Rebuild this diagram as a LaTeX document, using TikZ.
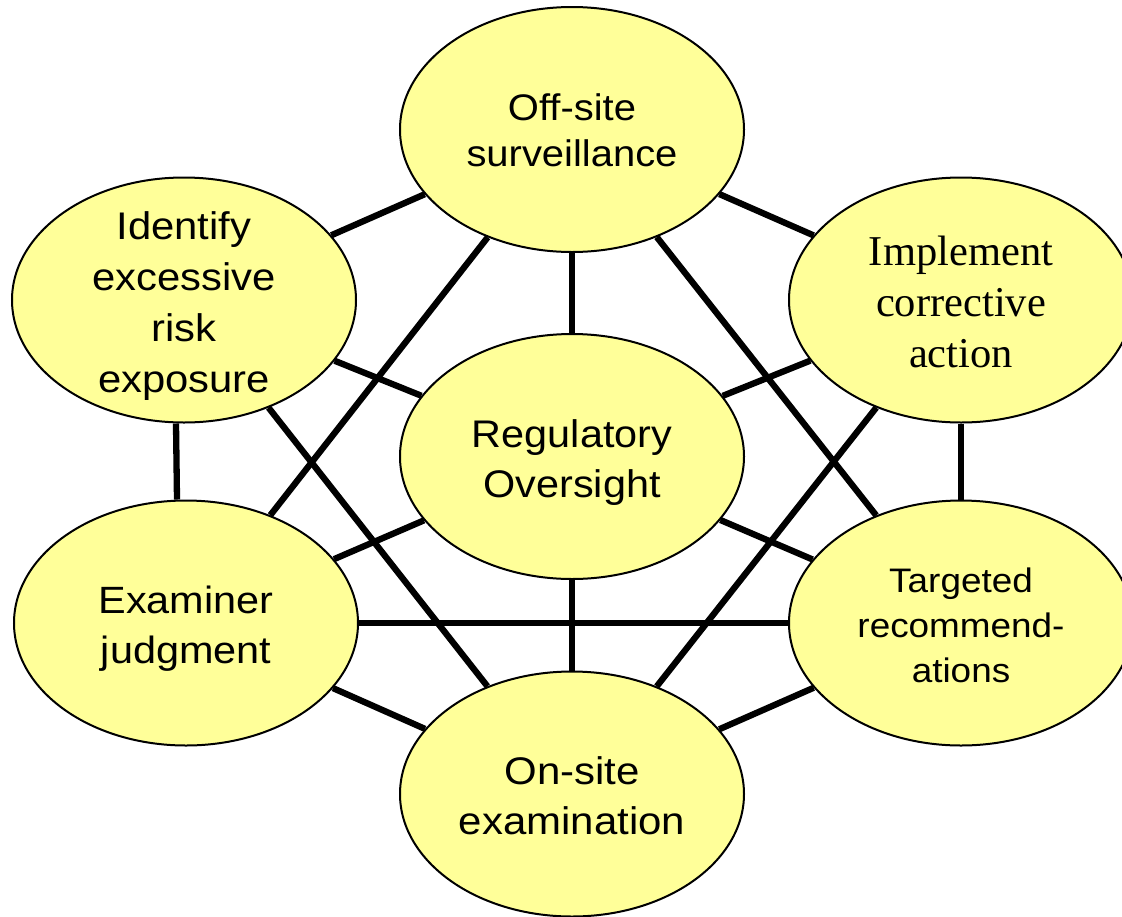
\documentclass[tikz,border=0pt]{standalone}
\usepackage{fontspec}
\setmainfont{Liberation Sans}
\newfontfamily\timesfont{Liberation Serif}
\usetikzlibrary{shapes.geometric}
\definecolor{pale}{HTML}{FFFF99}
\begin{document}
\begin{tikzpicture}[x=1pt,y=-1pt,
  bubble/.style={ellipse, draw=black, line width=2pt, fill=pale,
    minimum width=344pt, minimum height=245pt, inner sep=0pt},
  txt/.style={align=center, text=black, inner sep=0pt},
  link/.style={line width=6.3pt, draw=black}]
\useasboundingbox (0,0) rectangle (1122,916);
% ellipses
\node[bubble] (off) at (572,129.5) {};
\node[bubble] (lu)  at (184,300) {};
\node[bubble] (ru)  at (961,300) {};
\node[bubble] (reg) at (572,456.5) {};
\node[bubble] (ll)  at (186,623) {};
\node[bubble] (rl)  at (961,623) {};
\node[bubble] (on)  at (572,794) {};
% connectors
\draw[link] (off) -- (lu);
\draw[link] (off) -- (ru);
\draw[link] (off) -- (ll);
\draw[link] (off) -- (rl);
\draw[link] (off) -- (reg);
\draw[link] (lu) -- (reg);
\draw[link] ([xshift=-8pt]lu.south) -- ([xshift=-9pt]ll.north);
\draw[link] (lu) -- (on);
\draw[link] (ru) -- (reg);
\draw[link] (ru) -- (rl);
\draw[link] (ru) -- (on);
\draw[link] (reg) -- (ll);
\draw[link] (reg) -- (rl);
\draw[link] (reg) -- (on);
\draw[link] (ll) -- (rl);
\draw[link] (ll) -- (on);
\draw[link] (rl) -- (on);
% labels
\node[txt, xscale=1.08, font=\fontsize{37}{46}\selectfont] (offt) at ([yshift=-1pt]off.center) {Off-site\\surveillance};
\node[txt, xscale=1.085, font=\fontsize{38.5}{51}\selectfont] (lut) at ([yshift=-6pt]lu.center) {Identify\\excessive\\risk\\exposure};
\node[txt, font=\timesfont\fontsize{42.5}{51}\selectfont] (rut) at ([yshift=-2pt]ru.center) {Implement\\corrective\\action};
\node[txt, xscale=1.075, font=\fontsize{38.5}{50}\selectfont] (regt) at ([yshift=-6pt]reg.center) {Regulatory\\Oversight};
\node[txt, xscale=1.09, font=\fontsize{38}{50}\selectfont] (llt) at ([yshift=-6pt]ll.center) {Examiner\\judgment};
\node[txt, xscale=1.085, font=\fontsize{34}{45}\selectfont] (rlt) at ([yshift=-2pt]rl.center) {Targeted\\recommend-\\ations};
\node[txt, xscale=1.09, font=\fontsize{38.5}{50}\selectfont] (ont) at ([yshift=-2pt]on.center) {On-site\\examination};
\end{tikzpicture}
\end{document}
